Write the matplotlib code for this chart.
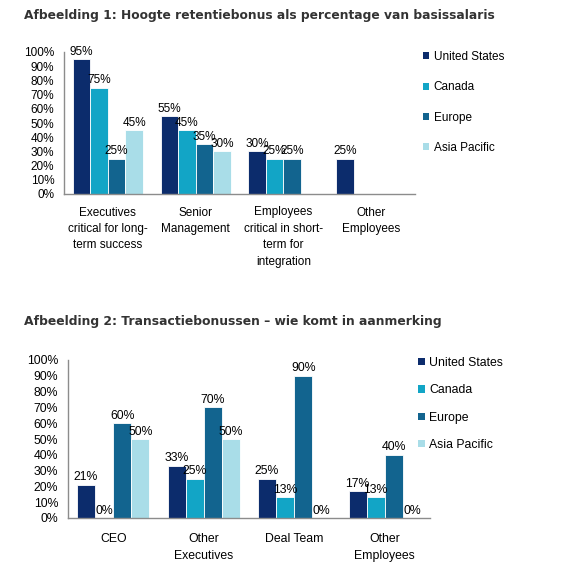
import matplotlib
matplotlib.use("Agg")
import matplotlib.pyplot as plt
from matplotlib.patches import Patch
import numpy as np

nan = np.nan

series = ["United States", "Canada", "Europe", "Asia Pacific"]
colors = ["#0c2c6c", "#12a5c6", "#12648f", "#a9dde8"]

# chart 1
title1 = "Afbeelding 1: Hoogte retentiebonus als percentage van basissalaris"
cats1 = ["Executives\ncritical for long-\nterm success", "Senior\nManagement",
         "Employees\ncritical in short-\nterm for\nintegration", "Other\nEmployees"]
vals1 = {
    "United States": [95, 55, 30, 25],
    "Canada": [75, 45, 25, nan],
    "Europe": [25, 35, 25, nan],
    "Asia Pacific": [45, 30, nan, nan],
}

# chart 2
title2 = "Afbeelding 2: Transactiebonussen \u2013 wie komt in aanmerking"
cats2 = ["CEO", "Other\nExecutives", "Deal Team", "Other\nEmployees"]
vals2 = {
    "United States": [21, 33, 25, 17],
    "Canada": [0, 25, 13, 13],
    "Europe": [60, 70, 90, 40],
    "Asia Pacific": [50, 50, 0, 0],
}

W, H = 563, 578
fig = plt.figure(figsize=(W / 100, H / 100), dpi=100)
fig.patch.set_facecolor("white")

FONT = "Liberation Sans"


def fx(px):
    return px / W


def fy(py):
    return 1 - py / H


def draw(ax, cats, vals, fs, leg_xy, leg_space, xpad):
    x = np.arange(len(cats))
    w = 0.2
    for i, s in enumerate(series):
        v = np.array(vals[s], dtype=float)
        bars = ax.bar(x + (i - 1.5) * w, np.nan_to_num(v), w, color=colors[i],
                      edgecolor="white", linewidth=0.6)
        labels = ["" if np.isnan(a) else f"{a:.0f}%" for a in v]
        ax.bar_label(bars, labels=labels, padding=1, fontsize=fs,
                     family=FONT, color="black")
    ax.set_xlim(-0.5, len(cats) - 0.5)
    ax.set_ylim(0, 100)
    ax.set_yticks(np.arange(0, 101, 10))
    ax.set_yticklabels([f"{t}%" for t in range(0, 101, 10)], family=FONT,
                       fontsize=fs)
    ax.set_xticks(x)
    ax.set_xticklabels(cats, family=FONT, fontsize=fs, linespacing=1.5)
    ax.tick_params(axis="both", length=0)
    ax.tick_params(axis="y", pad=7)
    ax.tick_params(axis="x", pad=xpad)
    for sp in ["top", "right"]:
        ax.spines[sp].set_visible(False)
    for sp in ["left", "bottom"]:
        ax.spines[sp].set_color("#8c8c8c")
        ax.spines[sp].set_linewidth(1.0)
    handles = [Patch(facecolor=c, edgecolor="none") for c in colors]
    fig.legend(handles, series, loc="upper left",
               bbox_to_anchor=(fx(leg_xy[0]), fy(leg_xy[1])),
               frameon=False, borderpad=0, borderaxespad=0,
               handlelength=0.55, handleheight=0.55, handletextpad=0.35,
               labelspacing=leg_space, prop={"family": FONT, "size": fs})


ax1 = fig.add_axes([fx(64), fy(194), fx(415 - 64), (194 - 52) / H])
draw(ax1, cats1, vals1, 8.5, (423, 51), 1.55, 9)
fig.text(fx(24), fy(15), title1, fontsize=8.8, fontweight="bold",
         family="DejaVu Sans", color="#333333", va="center", ha="left")

ax2 = fig.add_axes([fx(68), fy(518), fx(430 - 68), (518 - 360) / H])
draw(ax2, cats2, vals2, 8.8, (418, 357), 1.25, 11)
fig.text(fx(24), fy(321), title2, fontsize=8.9, fontweight="bold",
         family="DejaVu Sans", color="#333333", va="center", ha="left")

fig.savefig("out.png", dpi=100)
